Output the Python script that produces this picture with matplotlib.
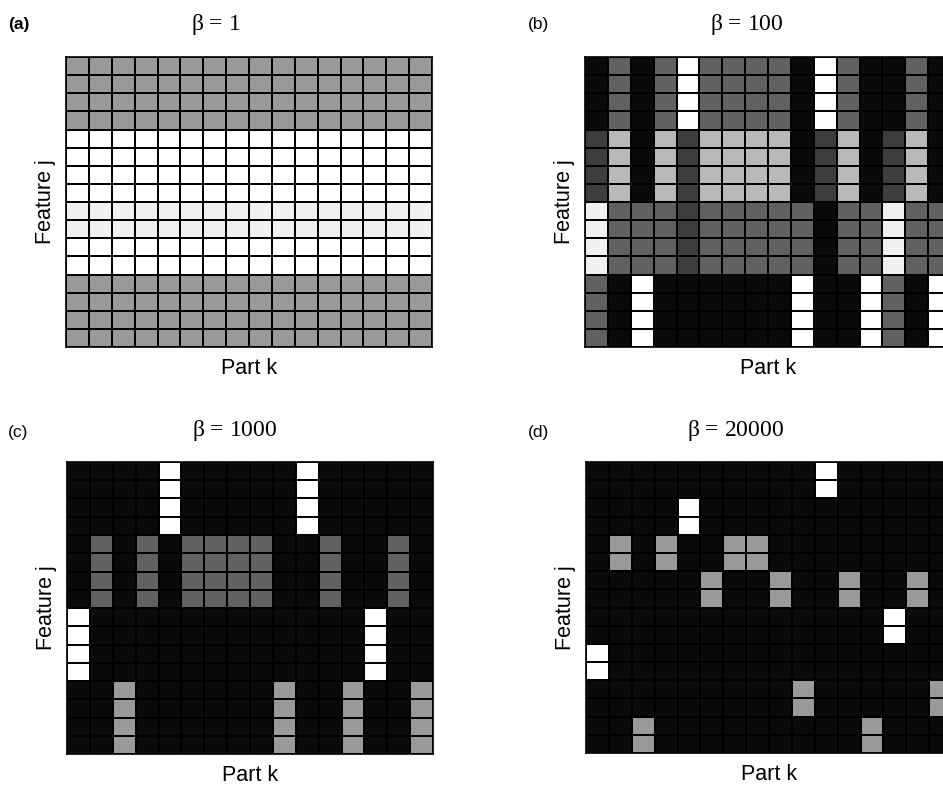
import numpy as np
import matplotlib
matplotlib.use("Agg")
import matplotlib.pyplot as plt

# grey level for each letter code (1 = white, 0 = black)
levels = {"W": 1.0, "N": 0.94, "L": 0.72, "M": 0.6, "D": 0.38, "E": 0.24, "K": 0.04}

# (a) beta = 1 : one code per row, all 16 parts identical
a_rows = "MMMMWWWWNNWWMMMM"
a_parts = 16

# (b) beta = 100 : four blocks of 4 features, one code per part
b_blocks = ["KDKDWDDDDKWDKKDK",
            "ELKLELLLLKELKELK",
            "NDDDEDDDDDKDDNDD",
            "DKWKKKKKKWKKWDKW"]

# (c) beta = 1000
c_blocks = ["KKKKWKKKKKWKKKKK",
            "KDKDKDDDDKKDKKDK",
            "WKKKKKKKKKKKKWKK",
            "KKMKKKKKKMKKMKKM"]

# (d) beta = 20000 : eight pairs of features
d_pairs = ["KKKKKKKKKKWKKKKK",
           "KKKKWKKKKKKKKKKK",
           "KMKMKKMMKKKKKKKK",
           "KKKKKMKKMKKMKKMK",
           "KKKKKKKKKKKKKWKK",
           "WKKKKKKKKKKKKKKK",
           "KKKKKKKKKMKKKKKM",
           "KKMKKKKKKKKKMKKK"]

titles = [r"$\mathregular{\beta}$ = 1", r"$\mathregular{\beta}$ = 100",
          r"$\mathregular{\beta}$ = 1000", r"$\mathregular{\beta}$ = 20000"]
tags = ["(a)", "(b)", "(c)", "(d)"]


def to_grid(codes, rep):
    g = np.array([[levels[ch] for ch in row] for row in codes])
    return np.repeat(g, rep, axis=0)


grid_a = to_grid([a_rows[i] * a_parts for i in range(len(a_rows))], 1)
grids = [grid_a, to_grid(b_blocks, 4), to_grid(c_blocks, 4), to_grid(d_pairs, 2)]

W, H = 943, 793
fig = plt.figure(figsize=(W / 100, H / 100), dpi=100)

# axes boxes in pixels: left, top, right, bottom
boxes = [(66, 57, 432, 347), (585, 57, 951, 347),
         (67, 462, 433, 754), (586, 462, 952, 753)]
title_pos = [(216, 30), (747, 30), (235, 436), (736, 436)]
tag_pos = [(8, 29), (528, 29), (8, 437), (528, 437)]

for i, Z in enumerate(grids):
    l, t, r, b = boxes[i]
    ax = fig.add_axes([l / W, 1 - b / H, (r - l) / W, (b - t) / H])
    ax.pcolormesh(Z, cmap="gray", vmin=0, vmax=1,
                  edgecolors="black", linewidth=1.3)
    ax.set_xlim(0, Z.shape[1])
    ax.set_ylim(Z.shape[0], 0)
    ax.set_xticks([])
    ax.set_yticks([])
    for s in ax.spines.values():
        s.set_linewidth(1.2)
    ax.set_xlabel("Part k", fontsize=15.5, family="Liberation Sans", labelpad=8)
    ax.set_ylabel("Feature j", fontsize=15.5, family="Liberation Sans", labelpad=7)

    tx, ty = title_pos[i]
    fig.text(tx / W, 1 - ty / H, titles[i], ha="center", va="baseline",
             fontsize=17, family="Liberation Serif")
    px, py = tag_pos[i]
    fig.text(px / W, 1 - py / H, tags[i], ha="left", va="baseline",
             fontsize=12.5, family="Liberation Sans",
             fontweight="bold" if i == 0 else "normal")

fig.savefig("out.png", dpi=100)
